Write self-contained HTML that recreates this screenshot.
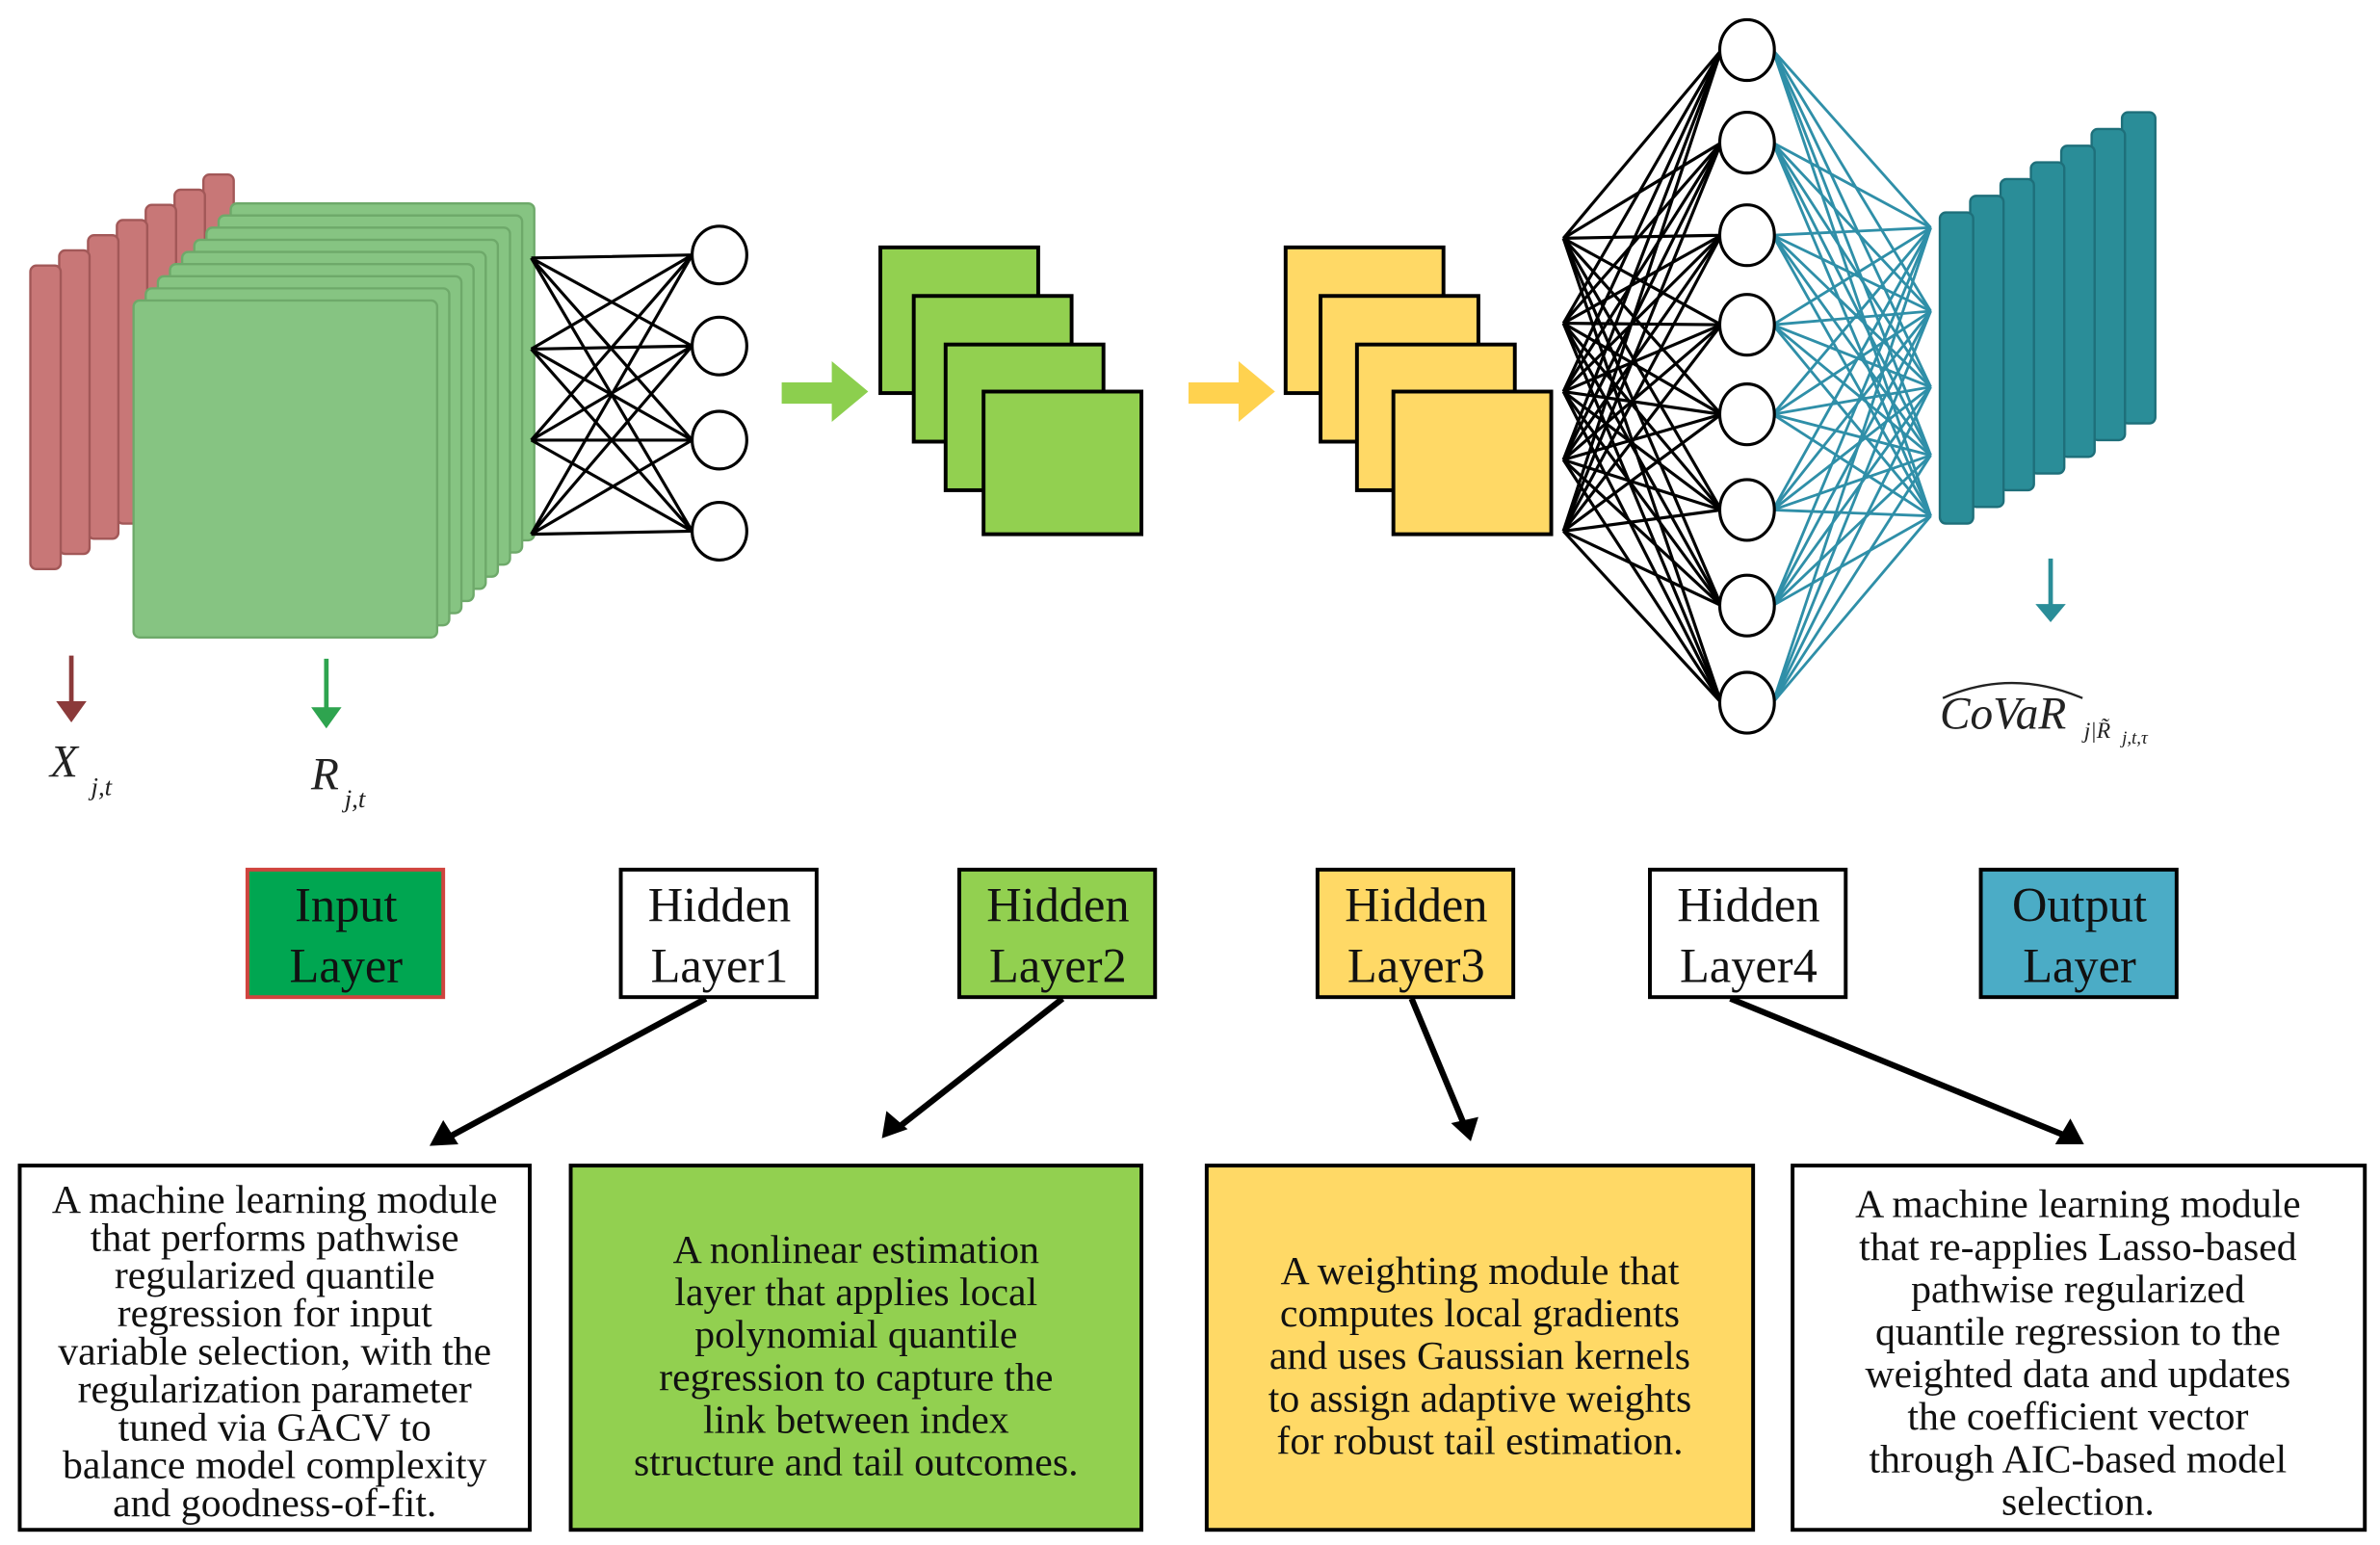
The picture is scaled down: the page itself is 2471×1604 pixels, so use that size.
<!DOCTYPE html>
<html><head><meta charset="utf-8"><style>html,body{margin:0;padding:0;background:#fff}svg{display:block}</style></head>
<body>
<svg width="2471" height="1604" viewBox="0 0 1568 1018" preserveAspectRatio="none" xmlns="http://www.w3.org/2000/svg" font-family="Liberation Serif, serif">
<g id="red"></g>
<g id="grn"></g>
<g id="teal"></g>
<!-- layer1 net -->
<g stroke="#000" stroke-width="2" fill="none">
<path d="M350,170L456,168M350,170L456,228M350,170L456,290M350,170L456,350M350,230L456,168M350,230L456,228M350,230L456,290M350,230L456,350M350,290L456,168M350,290L456,228M350,290L456,290M350,290L456,350M350,352L456,168M350,352L456,228M350,352L456,290M350,352L456,350"/>
</g>
<g stroke="#000" stroke-width="2" fill="#fff">
<ellipse cx="474" cy="168" rx="18" ry="19"/><ellipse cx="474" cy="228" rx="18" ry="19"/><ellipse cx="474" cy="290" rx="18" ry="19"/><ellipse cx="474" cy="350" rx="18" ry="19"/></g>
<!-- arrows -->
<path d="M515,252 L548,252 L548,238 L572,258 L548,278 L548,266 L515,266Z" fill="#8ccf4e"/>
<path d="M783,252 L816,252 L816,238 L840,258 L816,278 L816,266 L783,266Z" fill="#ffd24f"/>
<g stroke="#000" stroke-width="2.5" fill="#92d050">
<rect x="580" y="163" width="104" height="96"/><rect x="602" y="195" width="104" height="96"/><rect x="623" y="227" width="104" height="96"/><rect x="648" y="258" width="104" height="94"/></g>
<g stroke="#000" stroke-width="2.5" fill="#ffd966">
<rect x="847" y="163" width="104" height="96"/><rect x="870" y="195" width="104" height="96"/><rect x="894" y="227" width="104" height="96"/><rect x="918" y="258" width="104" height="94"/></g>
<g stroke="#000" stroke-width="2" id="l4b"></g>
<g stroke="#2f8fa8" stroke-width="1.8" id="l4r"></g>
<g stroke="#000" stroke-width="2" fill="#fff" id="c4"></g>
<g stroke-width="3">
<line x1="47" y1="432" x2="47" y2="468" stroke="#8b3a3a"/><polygon points="37,462 57,462 47,476" fill="#8b3a3a"/>
<line x1="215" y1="434" x2="215" y2="472" stroke="#2ea44f"/><polygon points="205,466 225,466 215,480" fill="#2ea44f"/>
<line x1="1351" y1="368" x2="1351" y2="402" stroke="#2a8d98"/><polygon points="1341,398 1361,398 1351,410" fill="#2a8d98"/></g>
<g font-style="italic" fill="#222">
<text x="33" y="512" font-size="30">X</text><text x="60" y="524" font-size="17">j,t</text>
<text x="205" y="520" font-size="30">R</text><text x="227" y="532" font-size="17">j,t</text>
<text x="1278" y="480" font-size="30">CoVaR</text><text x="1373" y="486" font-size="15">j|R̃</text><text x="1398" y="490" font-size="12">j,t,τ</text></g>
<path d="M1280,460 Q1325,440 1372,460" stroke="#222" stroke-width="1.5" fill="none"/>
<g stroke-width="2.5" font-size="32" text-anchor="middle">
<rect x="163" y="573" width="129" height="84" fill="#00a651" stroke="#d0443e"/>
<rect x="409" y="573" width="129" height="84" fill="#fff" stroke="#000"/>
<rect x="632" y="573" width="129" height="84" fill="#92d050" stroke="#000"/>
<rect x="868" y="573" width="129" height="84" fill="#ffd966" stroke="#000"/>
<rect x="1087" y="573" width="129" height="84" fill="#fff" stroke="#000"/>
<rect x="1305" y="573" width="129" height="84" fill="#4bacc6" stroke="#000"/>
<g stroke="none" fill="#111">
<text x="228" y="607">Input</text><text x="228" y="647">Layer</text>
<text x="474" y="607">Hidden</text><text x="474" y="647">Layer1</text>
<text x="697" y="607">Hidden</text><text x="697" y="647">Layer2</text>
<text x="933" y="607">Hidden</text><text x="933" y="647">Layer3</text>
<text x="1152" y="607">Hidden</text><text x="1152" y="647">Layer4</text>
<text x="1370" y="607">Output</text><text x="1370" y="647">Layer</text></g></g>
<g stroke="#000" stroke-width="4">
<line x1="465" y1="658" x2="298" y2="748"/><line x1="700" y1="658" x2="593" y2="742"/>
<line x1="930" y1="658" x2="965" y2="742"/><line x1="1140" y1="658" x2="1360" y2="748"/></g>
<g fill="#000">
<polygon points="283,755 292,738 302,754"/><polygon points="581,750 584,732 598,744"/>
<polygon points="969,752 956,740 974,736"/><polygon points="1373,754 1354,754 1364,737"/></g>
<g stroke="#000" stroke-width="2.5">
<rect x="13" y="768" width="336" height="240" fill="#fff"/>
<rect x="376" y="768" width="376" height="240" fill="#92d050"/>
<rect x="795" y="768" width="360" height="240" fill="#ffd966"/>
<rect x="1181" y="768" width="377" height="240" fill="#fff"/></g>
<g font-size="26.5" text-anchor="middle" fill="#111">
<text x="181" y="799">A machine learning module</text><text x="181" y="824">that performs pathwise</text><text x="181" y="849">regularized quantile</text><text x="181" y="874">regression for input</text><text x="181" y="899">variable selection, with the</text><text x="181" y="924">regularization parameter</text><text x="181" y="949">tuned via GACV to</text><text x="181" y="974">balance model complexity</text><text x="181" y="999">and goodness-of-fit.</text>
<text x="564" y="832">A nonlinear estimation</text><text x="564" y="860">layer that applies local</text><text x="564" y="888">polynomial quantile</text><text x="564" y="916">regression to capture the</text><text x="564" y="944">link between index</text><text x="564" y="972">structure and tail outcomes.</text>
<text x="975" y="846">A weighting module that</text><text x="975" y="874">computes local gradients</text><text x="975" y="902">and uses Gaussian kernels</text><text x="975" y="930">to assign adaptive weights</text><text x="975" y="958">for robust tail estimation.</text>
<text x="1369" y="802">A machine learning module</text><text x="1369" y="830">that re-applies Lasso-based</text><text x="1369" y="858">pathwise regularized</text><text x="1369" y="886">quantile regression to the</text><text x="1369" y="914">weighted data and updates</text><text x="1369" y="942">the coefficient vector</text><text x="1369" y="970">through AIC-based model</text><text x="1369" y="998">selection.</text></g>
<script>
var ns="http://www.w3.org/2000/svg";
function el(g,t,a){var e=document.createElementNS(ns,t);for(var k in a)e.setAttribute(k,a[k]);g.appendChild(e);return e;}
function stack(id,n,x0,y0,dx,dy,w,h,fill,edge){var g=document.getElementById(id);
 for(var i=n-1;i>=0;i--){var x=x0+i*dx,y=y0-i*dy;
  el(g,'rect',{x:x,y:y,width:w,height:h,rx:4,fill:fill,stroke:edge,'stroke-width':1.5});}}
stack('red',7,20,175,19,10,20,200,'#c87777','#a25858');
stack('grn',9,88,198,8,8,200,222,'#86c482','#6ea96a');
stack('teal',7,1278,140,20,11,22,205,'#2a8d98','#1e6f7a');
var cy=[33,94,155,214,273,336,399,463];
var L=[157,213,258,303,350], R=[150,205,255,300,340];
var b=document.getElementById('l4b'),r=document.getElementById('l4r'),c=document.getElementById('c4');
L.forEach(function(y){cy.forEach(function(k){el(b,'line',{x1:1030,y1:y,x2:1134,y2:k});});});
R.forEach(function(y){cy.forEach(function(k){el(r,'line',{x1:1168,y1:k,x2:1272,y2:y});});});
cy.forEach(function(k){el(c,'ellipse',{cx:1151,cy:k,rx:18,ry:20});});
</script>
</svg>
</body></html>
